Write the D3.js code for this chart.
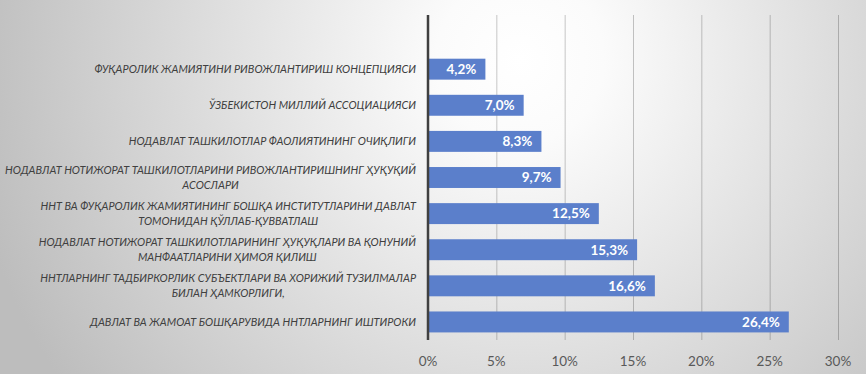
<html>
<meta charset="utf-8">
<script src="https://cdn.jsdelivr.net/npm/d3@7/dist/d3.min.js"></script>
<style>
body{
  margin: 0;
  overflow: hidden;
}
.catLabel{
  font-family: Lato, sans-serif;
  font-style: italic;
  font-size: 10.9px;
  fill: #404040;
}
.tickLabel{
  font-family: Lato, sans-serif;
  font-size: 13.5px;
  fill: #595959;
}
.valLabel{
  font-family: Lato, sans-serif;
  font-weight: bold;
  font-size: 13.5px;
  fill: white;
}
</style>
<body>
<div id="chartDiv"></div>
<script>
// categories top to bottom, first one is the empty slot Excel leaves on top
var categories = [
  [""],
  ["ФУҚАРОЛИК ЖАМИЯТИНИ РИВОЖЛАНТИРИШ КОНЦЕПЦИЯСИ"],
  ["ЎЗБЕКИСТОН МИЛЛИЙ АССОЦИАЦИЯСИ"],
  ["НОДАВЛАТ ТАШКИЛОТЛАР ФАОЛИЯТИНИНГ ОЧИҚЛИГИ"],
  ["НОДАВЛАТ НОТИЖОРАТ ТАШКИЛОТЛАРИНИ РИВОЖЛАНТИРИШНИНГ ҲУҚУҚИЙ", "АСОСЛАРИ"],
  ["ННТ ВА ФУҚАРОЛИК ЖАМИЯТИНИНГ БОШҚА ИНСТИТУТЛАРИНИ ДАВЛАТ", "ТОМОНИДАН ҚЎЛЛАБ-ҚУВВАТЛАШ"],
  ["НОДАВЛАТ НОТИЖОРАТ ТАШКИЛОТЛАРИНИНГ ҲУҚУҚЛАРИ ВА ҚОНУНИЙ", "МАНФААТЛАРИНИ ҲИМОЯ ҚИЛИШ"],
  ["ННТЛАРНИНГ ТАДБИРКОРЛИК СУБЪЕКТЛАРИ ВА ХОРИЖИЙ ТУЗИЛМАЛАР", "БИЛАН ҲАМКОРЛИГИ,"],
  ["ДАВЛАТ ВА ЖАМОАТ БОШҚАРУВИДА ННТЛАРНИНГ ИШТИРОКИ"]
];
var values = [null, 4.2, 7.0, 8.3, 9.7, 12.5, 15.3, 16.6, 26.4];
var ticks = [0, 5, 10, 15, 20, 25, 30];

var width = 866, height = 374;
var plotL = 428, plotR = 838, plotT = 15, plotB = 340;

var svg = d3.select("#chartDiv").append("svg").attr("width", width).attr("height", height);

// background gradient
var defs = svg.append("defs");
var grad = defs.append("radialGradient").attr("id", "bg")
  .attr("gradientUnits", "userSpaceOnUse")
  .attr("cx", 520).attr("cy", 60).attr("r", 560);
grad.append("stop").attr("offset", "0%").attr("stop-color", "#ffffff");
grad.append("stop").attr("offset", "15%").attr("stop-color", "#fbfbfb");
grad.append("stop").attr("offset", "100%").attr("stop-color", "#bdbdbd");
svg.append("rect").attr("width", width).attr("height", height).attr("fill", "url(#bg)");

var x = d3.scaleLinear().domain([0, 30]).range([plotL, plotR]);
var y = d3.scaleBand().domain(d3.range(categories.length)).range([plotT, plotB]).paddingInner(0.42).paddingOuter(0.21);

// gridlines
svg.selectAll(".grid").data(ticks.slice(1)).enter().append("line")
  .attr("class", "grid")
  .attr("x1", function(d){ return x(d) + 0.5 }).attr("x2", function(d){ return x(d) + 0.5 })
  .attr("y1", plotT).attr("y2", plotB)
  .attr("stroke", "#000").attr("stroke-opacity", 0.22).attr("stroke-width", 1);

// bars
var idx = d3.range(categories.length).filter(function(i){ return values[i] != null });
svg.selectAll(".bar").data(idx).enter().append("rect")
  .attr("class", "bar")
  .attr("x", x(0))
  .attr("y", function(i){ return y(i) })
  .attr("width", function(i){ return x(values[i]) - x(0) })
  .attr("height", y.bandwidth())
  .attr("fill", "#5b7fcb");

svg.selectAll(".valLabel").data(idx).enter().append("text")
  .attr("class", "valLabel")
  .attr("x", function(i){ return x(values[i]) - 9 })
  .attr("y", function(i){ return y(i) + y.bandwidth() / 2 })
  .attr("dy", "0.36em")
  .attr("text-anchor", "end")
  .text(function(i){ return values[i].toFixed(1).replace(".", ",") + "%" });

// vertical axis line
svg.append("line")
  .attr("x1", plotL).attr("x2", plotL).attr("y1", plotT).attr("y2", plotB)
  .attr("stroke", "#404040").attr("stroke-width", 2.5);

// x tick labels
svg.selectAll(".tickLabel").data(ticks).enter().append("text")
  .attr("class", "tickLabel")
  .attr("x", function(d){ return x(d) })
  .attr("y", 361)
  .attr("dy", "0.35em")
  .attr("text-anchor", "middle")
  .text(function(d){ return d + "%" });

// category labels, wrapped lines centred in a right-aligned block
var labelRight = 416, lineH = 14.5;
idx.forEach(function(i){
  var lines = categories[i];
  var g = svg.append("g");
  var cy = y(i) + y.bandwidth() / 2;
  var texts = lines.map(function(s, k){
    return g.append("text").attr("class", "catLabel")
      .attr("y", cy + (k - (lines.length - 1) / 2) * lineH)
      .attr("dy", "0.35em")
      .attr("text-anchor", "middle")
      .text(s);
  });
  var w = d3.max(texts, function(t){ return t.node().getComputedTextLength() });
  texts.forEach(function(t){ t.attr("x", labelRight - w / 2) });
});
</script>
</body>
</html>
